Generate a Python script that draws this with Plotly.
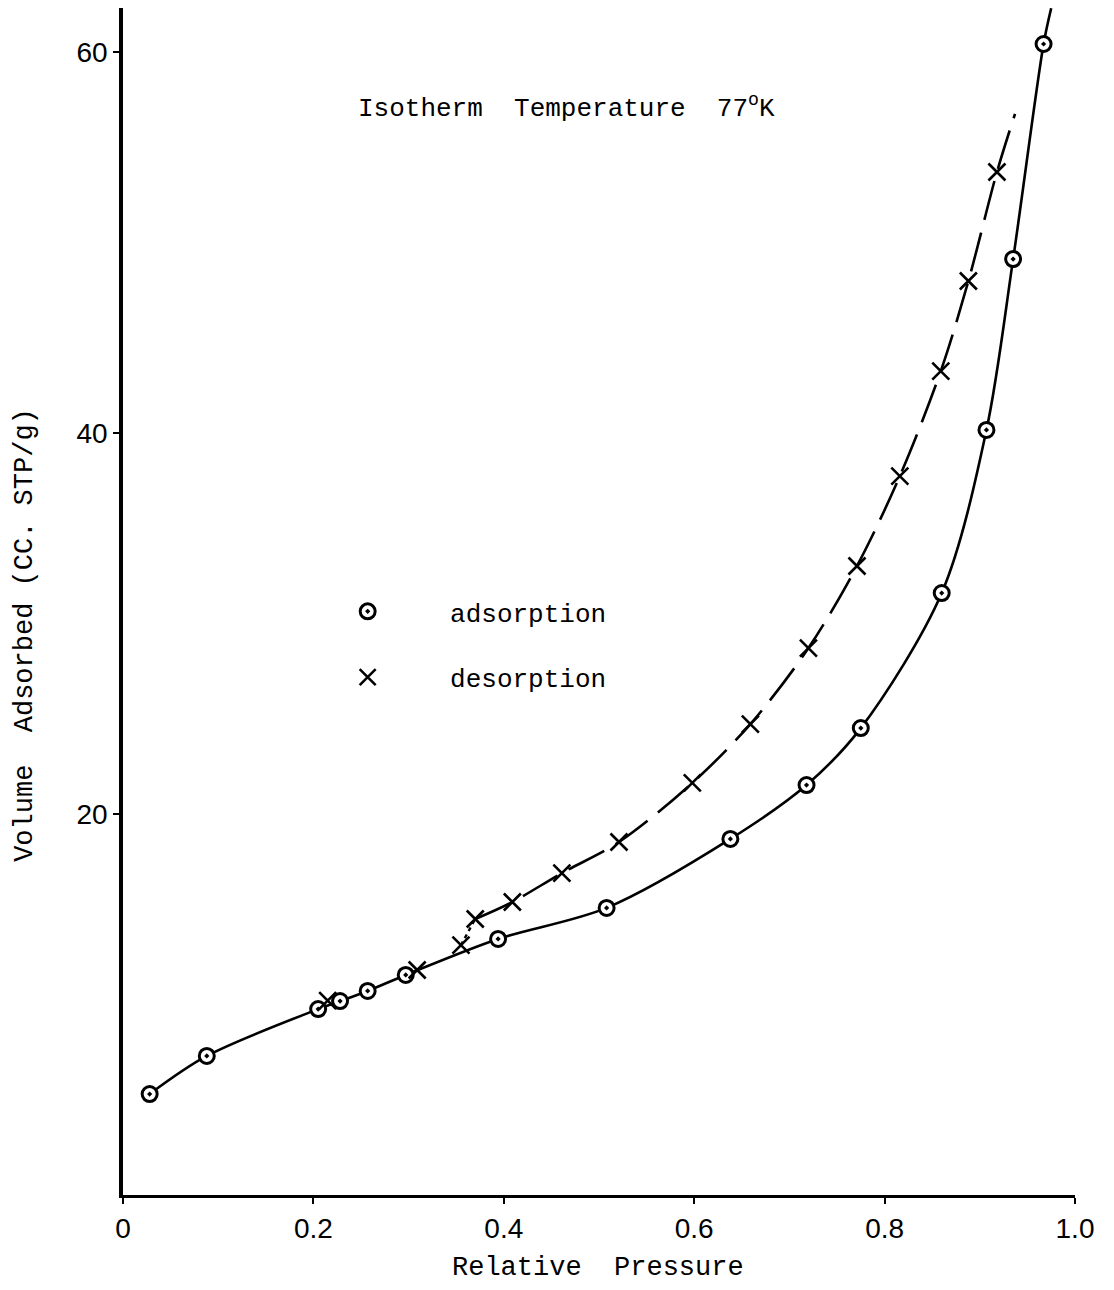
import plotly.graph_objects as go

# Adsorption points (relative pressure, volume adsorbed cc STP/g)
ads_x = [0.028, 0.088, 0.205, 0.228, 0.257, 0.297, 0.394, 0.508, 0.638, 0.718, 0.775, 0.860, 0.907, 0.935, 0.967]
ads_y = [5.30, 7.30, 9.76, 10.18, 10.71, 11.55, 13.44, 15.07, 18.69, 21.52, 24.51, 31.60, 40.16, 49.13, 60.42]
# where the hand-drawn adsorption curve runs off the top
ads_end_x = 0.975
ads_end_y = 62.3

# Desorption points
des_x = [0.215, 0.309, 0.355, 0.370, 0.409, 0.461, 0.521, 0.598, 0.659, 0.720, 0.771, 0.816, 0.859, 0.888, 0.918]
des_y = [10.20, 11.81, 13.12, 14.49, 15.38, 16.90, 18.53, 21.63, 24.72, 28.71, 33.02, 37.74, 43.25, 47.98, 53.70]
# where the dashed desorption curve ends
des_end_x = 0.937
des_end_y = 56.75

x_ticks = [0, 0.2, 0.4, 0.6, 0.8, 1.0]
x_ticktext = ["0", "0.2", "0.4", "0.6", "0.8", "1.0"]
y_ticks = [20, 40, 60]
y_ticktext = ["20", "40", "60"]

TYPE = "Liberation Mono"
LETTER = "Liberation Sans"

fig = go.Figure()

# adsorption smooth curve
fig.add_trace(go.Scatter(
    x=ads_x + [ads_end_x], y=ads_y + [ads_end_y],
    mode="lines", line=dict(color="black", width=2.6, shape="spline", smoothing=0.9),
    showlegend=False, hoverinfo="skip", cliponaxis=False))

# desorption short dotted link
fig.add_trace(go.Scatter(
    x=des_x[2:4], y=des_y[2:4],
    mode="lines", line=dict(color="black", width=2.4, dash="4px,4px"),
    showlegend=False, hoverinfo="skip"))

# desorption dashed curve
fig.add_trace(go.Scatter(
    x=des_x[3:] + [des_end_x], y=des_y[3:] + [des_end_y],
    mode="lines", line=dict(color="black", width=2.6, shape="spline", smoothing=0.9, dash="40px,13px"),
    showlegend=False, hoverinfo="skip"))

# markers
fig.add_trace(go.Scatter(
    x=ads_x, y=ads_y, mode="markers", name="    adsorption", legendgroup="a",
    marker=dict(symbol="circle-dot", size=15, color="white", line=dict(color="black", width=3)),
    cliponaxis=False))
fig.add_trace(go.Scatter(
    x=des_x, y=des_y, mode="markers", name="    desorption", legendgroup="d",
    marker=dict(symbol="x-thin", size=17, color="black", line=dict(color="black", width=2.6)),
    cliponaxis=False))

fig.add_annotation(
    x=0.466, y=57.1, xref="x", yref="y",
    text="Isotherm  Temperature  77<sup>o</sup>K",
    showarrow=False, xanchor="center", yanchor="middle",
    font=dict(family=TYPE, size=26, color="black"))

fig.add_annotation(
    x=0.499, y=-0.0613, xref="x", yref="paper",
    text="Relative  Pressure",
    showarrow=False, xanchor="center", yanchor="middle",
    font=dict(family=TYPE, size=27, color="black"))

fig.add_annotation(
    x=-0.103, y=29.4, xref="paper", yref="y",
    text="Volume  Adsorbed (CC. STP/g)", textangle=-90,
    showarrow=False, xanchor="center", yanchor="middle",
    font=dict(family=TYPE, size=27, color="black"))

fig.update_layout(
    width=1114, height=1290,
    margin=dict(l=115, r=47, t=0, b=103),
    paper_bgcolor="white", plot_bgcolor="white",
    showlegend=True,
    legend=dict(x=0.236, y=0.5114, xanchor="left", yanchor="top",
                font=dict(family=TYPE, size=26, color="black"),
                bgcolor="rgba(0,0,0,0)", tracegroupgap=29, traceorder="grouped"),
    xaxis=dict(range=[0, 1], tickvals=x_ticks, ticktext=x_ticktext,
               showline=True, linecolor="black", linewidth=3,
               ticks="outside", ticklen=6, tickwidth=2, tickcolor="black",
               showgrid=False, zeroline=False,
               tickfont=dict(family=LETTER, size=28, color="black")),
    yaxis=dict(range=[0, 62.31], tickvals=y_ticks, ticktext=y_ticktext,
               showline=True, linecolor="black", linewidth=3.5,
               ticks="outside", ticklen=6, tickwidth=2, tickcolor="black",
               showgrid=False, zeroline=False,
               tickfont=dict(family=LETTER, size=28, color="black")),
)

fig.write_html("out.html")
